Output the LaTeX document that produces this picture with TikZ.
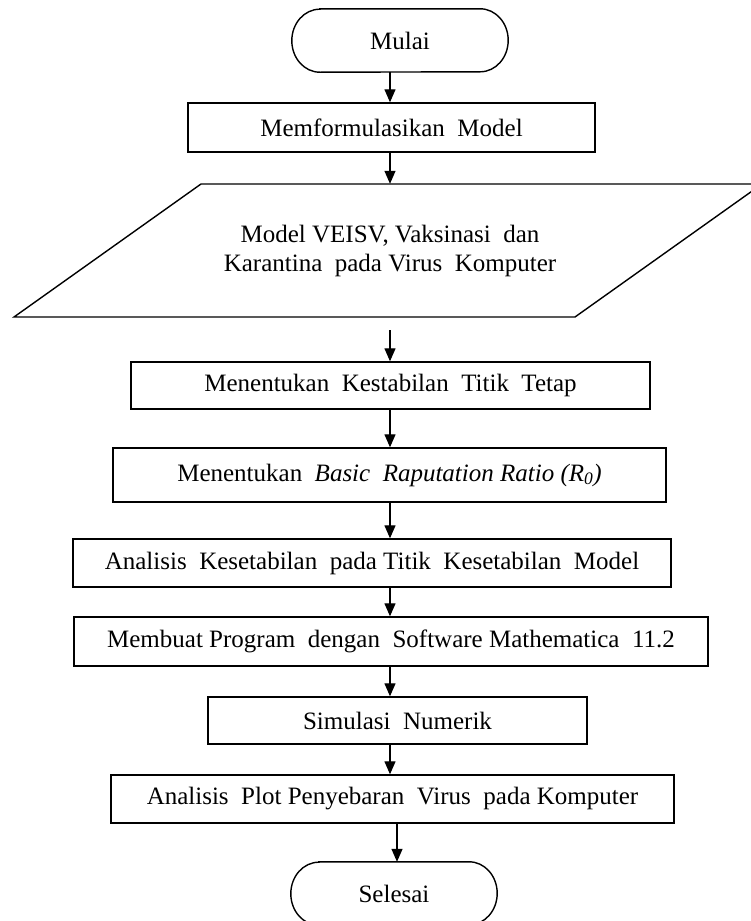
\documentclass[tikz,border=0pt]{standalone}
\usepackage{fontspec}
\setmainfont{Liberation Serif}
\usetikzlibrary{arrows.meta}
\begin{document}
\begin{tikzpicture}[x=1pt,y=-1pt,
  box/.style={draw, line width=1.4pt, inner sep=0pt, font=\fontsize{25}{29}\selectfont},
  lbl/.style={inner sep=0pt, font=\fontsize{25}{29}\selectfont},
  arr/.style={line width=1.3pt, -{Triangle[width=11pt,length=13pt]}},
  term/.style={line width=1.4pt}]
\clip (0,0) rectangle (751,921);
\coordinate (ax) at (390,0);
\coordinate (ax2) at (397,0);
% start
\node[lbl, minimum width=216pt, minimum height=63pt] (mulai) at (400,40.5) {Mulai};
\draw[term] ([xshift=28pt]mulai.north west) -- ([xshift=-28pt]mulai.north east)
  arc[start angle=90,end angle=-90,x radius=28pt,y radius=31.5pt]
  -- ([xshift=28pt]mulai.south west)
  arc[start angle=270,end angle=90,x radius=28pt,y radius=31.5pt] -- cycle;
\node[box, minimum width=407pt, minimum height=49pt] (box1) at (391.5,127.5) {Memformulasikan~ Model};
% parallelogram
\coordinate (pBL) at (14,317);
\coordinate (pTL) at (201,184);
\coordinate (pTR) at (762,184);
\coordinate (pBR) at (575,317);
\draw[term] (pBL) -- (pTL) -- (pTR) -- (pBR) -- cycle;
\node[lbl, minimum width=100pt, minimum height=133pt, align=center] (para) at (390,250.5)
  {Model VEISV, Vaksinasi~ dan\\Karantina~ pada Virus~ Komputer};
\coordinate (pout) at ([yshift=-13pt]para.south);
\node[box, minimum width=519pt, minimum height=47pt] (box2) at (390.5,385.5) {Menentukan~ Kestabilan~ Titik~ Tetap};
\node[box, minimum width=553pt, minimum height=54pt] (box3) at (389.5,475) {Menentukan~ \textit{Basic~ Raputation Ratio (R\textsubscript{0})}};
\node[box, minimum width=598pt, minimum height=48pt] (box4) at (372,563) {Analisis~ Kesetabilan~ pada Titik~ Kesetabilan~ Model};
\node[box, minimum width=634pt, minimum height=49pt] (box5) at (391,641.5) {Membuat Program~ dengan~ Software Mathematica~ 11.2};
\node[box, minimum width=379pt, minimum height=47pt] (box6) at (397.5,720.5) {Simulasi~ Numerik};
\node[box, minimum width=563pt, minimum height=48pt] (box7) at (392.5,799) {Analisis~ Plot Penyebaran~ Virus~ pada Komputer};
% end
\node[lbl, minimum width=206pt, minimum height=63pt] (selesai) at (394,893.5) {Selesai};
\draw[term] ([xshift=28pt]selesai.north west) -- ([xshift=-28pt]selesai.north east)
  arc[start angle=90,end angle=-90,x radius=28pt,y radius=31.5pt]
  -- ([xshift=28pt]selesai.south west)
  arc[start angle=270,end angle=90,x radius=28pt,y radius=31.5pt] -- cycle;
% connectors
\draw[arr] (mulai.south -| ax) -- (box1.north -| ax);
\draw[arr] (box1.south -| ax) -- (para.north -| ax);
\draw[arr] (pout -| ax) -- (box2.north -| ax);
\draw[arr] (box2.south -| ax) -- (box3.north -| ax);
\draw[arr] (box3.south -| ax) -- (box4.north -| ax);
\draw[arr] (box4.south -| ax) -- (box5.north -| ax);
\draw[arr] (box5.south -| ax) -- (box6.north -| ax);
\draw[arr] (box6.south -| ax) -- (box7.north -| ax);
\draw[arr] (box7.south -| ax2) -- (selesai.north -| ax2);
\end{tikzpicture}
\end{document}
